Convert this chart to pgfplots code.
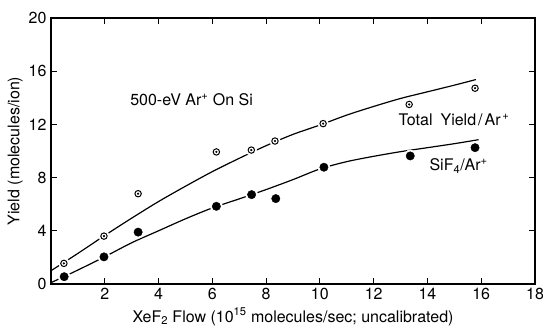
\documentclass[border=0pt]{standalone}
\usepackage{fontspec}
\setmainfont{TeX Gyre Heros}
\usepackage{pgfplots}
\pgfplotsset{compat=1.18}
\begin{document}
\fontsize{16}{19}\selectfont
\begin{tikzpicture}
\begin{axis}[name=ax, scale only axis, width=484pt, height=266pt,
  xmin=0, xmax=18, ymin=0, ymax=20,
  xtick={2,4,...,18}, ytick={0,4,...,20},
  tick align=inside, major tick length=6pt,
  every tick/.style={black, line width=1pt},
  axis line style={line width=1.4pt},
  tick label style={font=\fontsize{16}{19}\selectfont},
  xticklabel style={yshift=1pt},
  yticklabel style={xshift=1pt},
  /pgf/number format/assume math mode=true,
  xlabel={XeF\textsubscript{2} Flow (10\textsuperscript{15} molecules/sec; uncalibrated)},
  ylabel={Yield (molecules/ion)},
  label style={font=\fontsize{16}{19}\selectfont},
  xlabel style={yshift=3pt},
  ylabel style={yshift=-5pt},
  clip=false]
% fitted curves as drawn
\addplot[black, line width=1.2pt, smooth] coordinates {
 (0,1.0) (1,2.3) (2,3.65) (3,4.95) (4,6.2) (5,7.35) (6,8.45) (7,9.45) (8,10.4)
 (9,11.25) (10,11.95) (11,12.7) (12,13.35) (13,13.95) (14,14.45) (15,14.95) (15.8,15.37)};
\addplot[black, line width=1.2pt, smooth] coordinates {
 (0,0.1) (1,1.05) (2,2.05) (3,3.1) (4,4.0) (5,4.9) (6,5.72) (7,6.4) (8,7.1)
 (9,7.85) (10,8.65) (11,9.2) (12,9.6) (13,9.95) (14,10.25) (15,10.55) (15.9,10.85)};
% halos
\addplot[only marks, mark=*, mark size=5.5pt, mark options={draw=white, fill=white}] coordinates {
 (0.48,1.55) (1.97,3.6) (3.24,6.79) (6.15,9.93) (7.45,10.07) (8.33,10.75) (10.12,12.06) (13.32,13.5) (15.77,14.72)};
\addplot[only marks, mark=*, mark size=6pt, mark options={draw=white, fill=white}] coordinates {
 (0.49,0.55) (1.97,2.04) (3.24,3.9) (6.15,5.84) (7.46,6.72) (8.36,6.42) (10.15,8.78) (13.36,9.63) (15.77,10.25)};
% total yield
\addplot[only marks, mark=o, mark size=3.2pt, mark options={black, line width=1pt}] coordinates {
 (0.48,1.55) (1.97,3.6) (3.24,6.79) (6.15,9.93) (7.45,10.07) (8.33,10.75) (10.12,12.06) (13.32,13.5) (15.77,14.72)};
\addplot[only marks, mark=*, mark size=0.9pt, mark options={black}] coordinates {
 (0.48,1.55) (1.97,3.6) (3.24,6.79) (6.15,9.93) (7.45,10.07) (8.33,10.75) (10.12,12.06) (13.32,13.5) (15.77,14.72)};
% SiF4
\addplot[only marks, mark=*, mark size=4.2pt, mark options={black}] coordinates {
 (0.49,0.55) (1.97,2.04) (3.24,3.9) (6.15,5.84) (7.46,6.72) (8.36,6.42) (10.15,8.78) (13.36,9.63) (15.77,10.25)};
\node[font=\fontsize{16}{19}\selectfont] at (axis cs:5.23,13.83) {500-eV Ar\textsuperscript{+} On Si};
\node[font=\fontsize{16}{19}\selectfont] at (axis cs:14.99,12.33) {Total\hspace{8pt}Yield\hspace{2pt}/\hspace{2pt}Ar\textsuperscript{\,+}};
\node[font=\fontsize{16}{19}\selectfont] at (axis cs:15.16,8.85) {SiF\textsubscript{4}/Ar\textsuperscript{+}};
\end{axis}
\pgfresetboundingbox
\path ([shift={(-51pt,-42pt)}]ax.south west) rectangle ([shift={(8pt,18pt)}]ax.north east);
\end{tikzpicture}
\end{document}
